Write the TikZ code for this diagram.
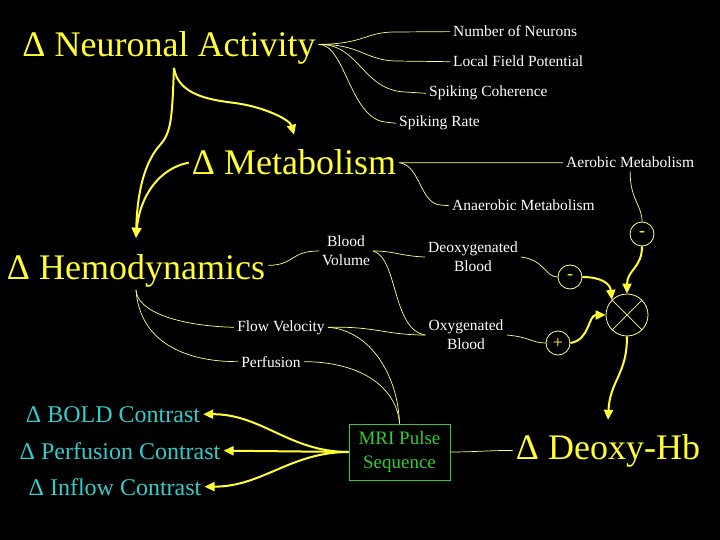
\documentclass[tikz,border=0pt]{standalone}
\usepackage{fontspec}
\setmainfont{Liberation Serif}
\usetikzlibrary{arrows.meta}

\definecolor{hiyellow}{RGB}{255,255,51}
\definecolor{lineyellow}{RGB}{255,255,140}
\definecolor{contrastcyan}{RGB}{51,204,204}
\definecolor{pulsegreen}{RGB}{51,204,51}

\begin{document}
\begin{tikzpicture}[
  x=1pt, y=-1pt,
  every node/.style={inner sep=3pt},
  big/.style={text=hiyellow, font=\fontsize{36}{40}\selectfont, anchor=base},
  leaf/.style={text=white, font=\fontsize{15.5}{19}\selectfont},
  twoline/.style={text=white, font=\fontsize{15.5}{19}\selectfont, align=center},
  contrast/.style={text=contrastcyan, font=\fontsize{24}{28}\selectfont, anchor=base},
  sign/.style={circle, draw=lineyellow, line width=0.8pt, minimum size=24pt, inner sep=0pt, text=hiyellow, font=\fontsize{18}{18}\selectfont},
  mixer/.style={circle, draw=lineyellow, line width=0.8pt, minimum size=42pt, inner sep=0pt},
  pulse/.style={rectangle, draw=pulsegreen, text=pulsegreen, line width=1pt, minimum width=101pt, minimum height=56pt, align=center, font=\fontsize{19}{24}\selectfont},
  link/.style={draw=lineyellow, line width=0.7pt},
  arrow/.style={-{Triangle[length=10pt,width=9pt]}, draw=hiyellow, line width=2pt}
]
\fill[black] (0,0) rectangle (720,540);

% Neuronal activity
\node[big] (na) at (169,57) {Δ Neuronal Activity};
\node[leaf, anchor=base west] (nn) at (450,37) {Number of Neurons};
\node[leaf, anchor=base west] (lfp) at (450,67) {Local Field Potential};
\node[leaf, anchor=base west] (coh) at (426,97) {Spiking Coherence};
\node[leaf, anchor=base west] (rate) at (396,127) {Spiking Rate};

% Metabolism
\node[big] (meta) at (294,175) {Δ Metabolism};
\node[leaf, anchor=base west] (aer) at (563,168) {Aerobic Metabolism};
\node[leaf, anchor=base west] (ana) at (449,211) {Anaerobic Metabolism};

% Hemodynamics
\node[big] (hemo) at (136,279) {Δ Hemodynamics};
\node[twoline] (bv) at (346,251) {Blood\\Volume};
\node[twoline] (dbl) at (473,257) {Deoxygenated\\Blood};
\node[twoline] (obl) at (466,335) {Oxygenated\\Blood};
\node[leaf, anchor=base] (fv) at (281,331) {Flow Velocity};
\node[leaf, anchor=base] (perf) at (271,367) {Perfusion};

% Signs and mixer
\node[sign] (s1) at (642,234) {-};
\node[sign] (s2) at (570,277) {-};
\node[sign] (s3) at (558,343) {+};
\node[mixer] (mix) at (627,315) {};
\draw[link] (mix.45) -- (mix.225) (mix.135) -- (mix.-45);

% Measurement
\node[big] (deoxy) at (608,459) {Δ Deoxy-Hb};
\node[pulse] (mri) at (399.5,452) {MRI Pulse\\Sequence};
\node[contrast] (bold) at (113,422) {Δ BOLD Contrast};
\node[contrast] (pc) at (120,459) {Δ Perfusion Contrast};
\node[contrast] (ic) at (115,495) {Δ Inflow Contrast};

% Fan of components
\coordinate (hub) at ([yshift=4pt]na.east);
\draw[link] (hub) .. controls (365,44) and (365,32) .. (395,32) -- (nn.west);
\draw[link] (hub) .. controls (360,44) and (365,60) .. (395,61) -- (lfp.west);
\draw[link] (hub) .. controls (360,44) and (362,90) .. (405,92) -- (coh.west);
\draw[link] (hub) .. controls (345,44) and (350,118) .. (385,122) -- (rate.west);

% Arrows from neuronal activity and metabolism
\coordinate (nafoot) at ([xshift=5pt]na.south);
\draw[arrow] (nafoot) .. controls (178,95) and (210,100) .. (235,103) .. controls (265,107) and (290,120) .. ([yshift=12pt]meta.north);
\draw[arrow] (nafoot) .. controls (172,115) and (172,132) .. (160,145) .. controls (142,165) and (137,200) .. ([yshift=13pt]hemo.north);
\draw[arrow] (meta.west) .. controls (160,168) and (140,195) .. ([yshift=13pt]hemo.north);

% Metabolism branches
\draw[link] (meta.east) -- (aer.west);
\draw[link] (meta.east) .. controls (420,165) and (420,203) .. (440,205) -- (ana.west);
\draw[link] (aer.south) .. controls (630,200) and (642,205) .. (s1.north);
\draw[arrow] (s1.south) .. controls (642,268) and (627,270) .. (mix.north);

% Hemodynamics branches
\draw[link] ([yshift=5pt]hemo.east) .. controls (295,265) and (290,251) .. (bv.west);
\draw[link] (bv.east) .. controls (395,251) and (400,256) .. (dbl.west);
\draw[link] (bv.east) .. controls (398,258) and (392,330) .. (obl.west);
\draw[link] (dbl.east) .. controls (545,260) and (545,277) .. (s2.west);
\draw[arrow] (s2.east) .. controls (600,277) and (610,283) .. (mix.north west);
\draw[link] (obl.east) .. controls (530,337) and (532,343) .. (s3.west);
\draw[arrow] (s3.east) .. controls (590,340) and (588,315) .. (mix.west);
\draw[arrow] (mix.south) .. controls (627,375) and (610,380) .. ([yshift=11pt]deoxy.north);

\draw[link] (hemo.south) .. controls (137,312) and (180,326) .. (fv.west);
\draw[link] (hemo.south) .. controls (140,345) and (190,362) .. (perf.west);
\draw[link] (fv.east) .. controls (375,326) and (385,335) .. (obl.west);
\draw[link] (fv.east) .. controls (370,330) and (398,375) .. (mri.north);
\draw[link] (perf.east) .. controls (365,362) and (397,390) .. (mri.north);

% Scanner outputs
\draw[arrow] (mri.west) to[out=180,in=0] (bold.east);
\draw[arrow] (mri.west) -- (pc.east);
\draw[arrow] (mri.west) to[out=180,in=0] (ic.east);
\draw[link] (mri.east) to[out=0,in=180] (deoxy.west);
\end{tikzpicture}
\end{document}
